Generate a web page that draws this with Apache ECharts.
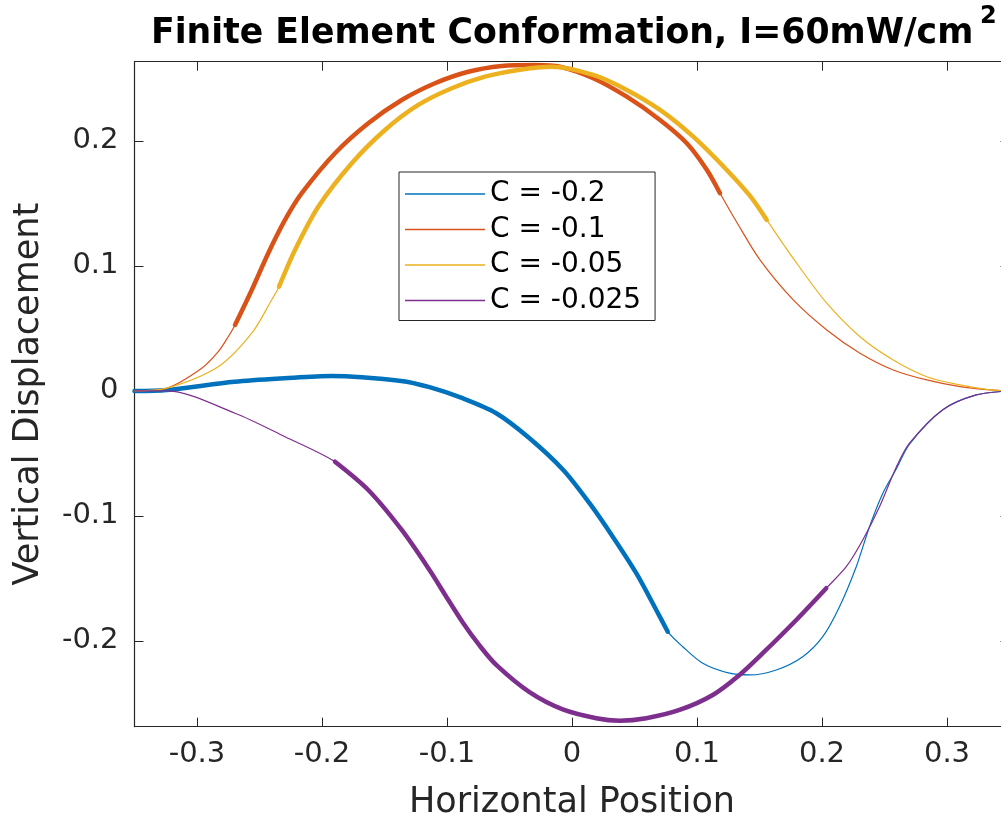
<!DOCTYPE html>
<html><head><meta charset="utf-8">
<script src="https://cdn.jsdelivr.net/npm/echarts@6/dist/echarts.min.js"></script>
<style>html,body{margin:0;padding:0;background:#fff}#c{width:1001px;height:820px}</style>
</head><body><div id="c"></div>
<script>
// ---- data ----
const titleMain = 'Finite Element Conformation, I=60mW/cm';
const titleSup = '2';
const seriesNames = ['C = -0.2', 'C = -0.1', 'C = -0.05', 'C = -0.025'];
const xTicks = [-0.3, -0.2, -0.1, 0, 0.1, 0.2, 0.3];
const yTicks = [-0.2, -0.1, 0, 0.1, 0.2];
const xRange = [-0.35, 0.35];
const yRange = [-0.2686, 0.2634];

const blueX = [-0.35, -0.3242, -0.2700, -0.2300, -0.1926, -0.1366, -0.1140, -0.0876, -0.0606, -0.0340, -0.0070, 0.0140, 0.0326, 0.0514, 0.0674, 0.0766, 0.0886, 0.1046, 0.1260, 0.1420, 0.1634, 0.1846, 0.2006, 0.2140, 0.2274, 0.2380, 0.2486, 0.2594, 0.2700, 0.2964, 0.3234, 0.35];
const blueY = [0, 0.0008, 0.0074, 0.0102, 0.0120, 0.0080, 0.0030, -0.0058, -0.0178, -0.0378, -0.0632, -0.0898, -0.1166, -0.1458, -0.1752, -0.1926, -0.2046, -0.2178, -0.2258, -0.2272, -0.2232, -0.2126, -0.1966, -0.1726, -0.1406, -0.1086, -0.0820, -0.0625, -0.0425, -0.0152, -0.0032, 0];

const orangeX = [-0.35, -0.3242, -0.2962, -0.2830, -0.2750, -0.2696, -0.2562, -0.2430, -0.2296, -0.2162, -0.1896, -0.1630, -0.1362, -0.1096, -0.0830, -0.0562, -0.0296, -0.0096, 0.0170, 0.0438, 0.0704, 0.0918, 0.1078, 0.1184, 0.1318, 0.1504, 0.1770, 0.2038, 0.2304, 0.2570, 0.2838, 0.3104, 0.3344, 0.35];
const orangeY = [0, 0.0022, 0.0182, 0.0314, 0.0434, 0.0528, 0.0808, 0.1102, 0.1368, 0.1582, 0.1902, 0.2142, 0.2328, 0.2462, 0.2554, 0.2600, 0.2608, 0.2594, 0.2502, 0.2354, 0.2168, 0.1982, 0.1770, 0.1582, 0.1350, 0.1048, 0.0728, 0.0488, 0.0302, 0.0168, 0.0088, 0.0034, 0.0008, 0];

const yellowX = [-0.35, -0.3242, -0.2830, -0.2562, -0.2402, -0.2344, -0.2216, -0.2030, -0.1762, -0.1496, -0.1230, -0.0962, -0.0696, -0.0430, -0.0162, 0.0170, 0.0438, 0.0704, 0.0970, 0.1238, 0.1424, 0.1558, 0.1770, 0.2038, 0.2304, 0.2570, 0.2838, 0.3104, 0.3344, 0.35];
const yellowY = [0, 0.0022, 0.0194, 0.0462, 0.0730, 0.0834, 0.1128, 0.1474, 0.1822, 0.2088, 0.2288, 0.2422, 0.2514, 0.2568, 0.2594, 0.2528, 0.2408, 0.2248, 0.2034, 0.1768, 0.1560, 0.1368, 0.1060, 0.0702, 0.0434, 0.0248, 0.0114, 0.0048, 0.0008, 0];

const purpleX = [-0.35, -0.3242, -0.2696, -0.2296, -0.1896, -0.1630, -0.1362, -0.1140, -0.1006, -0.0874, -0.0740, -0.0606, -0.0340, -0.0074, 0.0194, 0.0380, 0.0594, 0.0860, 0.1126, 0.1340, 0.1526, 0.1794, 0.2034, 0.2194, 0.2326, 0.2460, 0.2594, 0.2700, 0.2964, 0.3234, 0.35];
const purpleY = [0, 0, -0.0178, -0.0366, -0.0566, -0.0792, -0.1112, -0.1432, -0.1646, -0.1852, -0.2036, -0.2192, -0.2410, -0.2548, -0.2618, -0.2638, -0.2618, -0.2552, -0.2432, -0.2272, -0.2098, -0.1832, -0.1578, -0.1406, -0.1192, -0.0926, -0.0610, -0.0418, -0.0152, -0.0032, 0];

// x-interval of each curve drawn with the heavy stroke
const thickFrom = [-0.35, -0.2696, -0.2344, -0.1896];
const thickTo = [0.0766, 0.1184, 0.1558, 0.2034];

// ---- build ----
const colors = ['#0072BD', '#D95319', '#EDB120', '#7E2F8E'];
const curves = [[blueX, blueY], [orangeX, orangeY], [yellowX, yellowY], [purpleX, purpleY]];
const ink = '#262626';
const FONT = 'DejaVu Sans';
const SMOOTH = 0.3;

const series = [];
curves.forEach(([xs, ys], i) => {
  const pts = xs.map((x, k) => [x, ys[k]]);
  const thick = pts.filter(p => p[0] >= thickFrom[i] - 1e-9 && p[0] <= thickTo[i] + 1e-9);
  series.push({
    name: seriesNames[i], type: 'line', data: pts, smooth: SMOOTH, symbol: 'none',
    lineStyle: { color: colors[i], width: 1.2 }, itemStyle: { color: colors[i] }, z: 2 + i
  });
  series.push({
    name: seriesNames[i] + ' heavy', type: 'line', data: thick, smooth: SMOOTH, symbol: 'none',
    lineStyle: { color: colors[i], width: 4.5, cap: 'round' }, itemStyle: { color: colors[i] }, z: 2 + i
  });
});

const tickCommon = { show: true, inside: true, length: 9, lineStyle: { color: ink, width: 1 } };
const lineCommon = { show: true, onZero: false, lineStyle: { color: ink, width: 1.2 } };

const option = {
  animation: false,
  backgroundColor: '#fff',
  title: [{
    left: 146, top: 11,
    text: titleMain,
    textStyle: { fontFamily: FONT, fontWeight: 'bold', fontSize: 34.7, color: '#000' }
  }, {
    left: 975, top: 0,
    text: titleSup,
    textStyle: { fontFamily: FONT, fontWeight: 'bold', fontSize: 24, color: '#000' }
  }],
  grid: { left: 134.5, top: 61.7, width: 875, height: 665, containLabel: false, outerBoundsMode: 'none' },
  legend: {
    data: seriesNames,
    orient: 'vertical', left: 399, top: 172,
    icon: 'rect', itemWidth: 80, itemHeight: 1.5, itemGap: 7.5,
    padding: [8, 14, 6, 6],
    borderColor: ink, borderWidth: 1, backgroundColor: '#fff',
    textStyle: { fontFamily: FONT, fontSize: 28, color: '#000', lineHeight: 27 }
  },
  xAxis: [{
    type: 'value', min: xRange[0], max: xRange[1],
    axisLine: lineCommon,
    axisTick: Object.assign({ customValues: xTicks }, tickCommon),
    axisLabel: { customValues: xTicks, fontFamily: FONT, fontSize: 29, color: ink, margin: 13 },
    splitLine: { show: false },
    name: 'Horizontal Position', nameLocation: 'middle', nameGap: 59,
    nameTextStyle: { fontFamily: FONT, fontSize: 35, color: ink }
  }, {
    type: 'value', position: 'top', min: xRange[0], max: xRange[1],
    axisLine: lineCommon,
    axisTick: Object.assign({ customValues: xTicks }, tickCommon),
    axisLabel: { show: false }, splitLine: { show: false }
  }],
  yAxis: [{
    type: 'value', min: yRange[0], max: yRange[1],
    axisLine: lineCommon,
    axisTick: Object.assign({ customValues: yTicks }, tickCommon),
    axisLabel: { customValues: yTicks, fontFamily: FONT, fontSize: 29, color: ink, margin: 16 },
    splitLine: { show: false },
    name: 'Vertical Displacement', nameLocation: 'middle', nameGap: 88,
    nameTextStyle: { fontFamily: FONT, fontSize: 35, color: ink }
  }, {
    type: 'value', position: 'right', min: yRange[0], max: yRange[1],
    axisLine: lineCommon,
    axisTick: Object.assign({ customValues: yTicks }, tickCommon),
    axisLabel: { show: false }, splitLine: { show: false }
  }],
  series: series
};

const chart = echarts.init(document.getElementById('c'), null, { renderer: 'canvas' });
chart.setOption(option);
</script>
</body></html>
